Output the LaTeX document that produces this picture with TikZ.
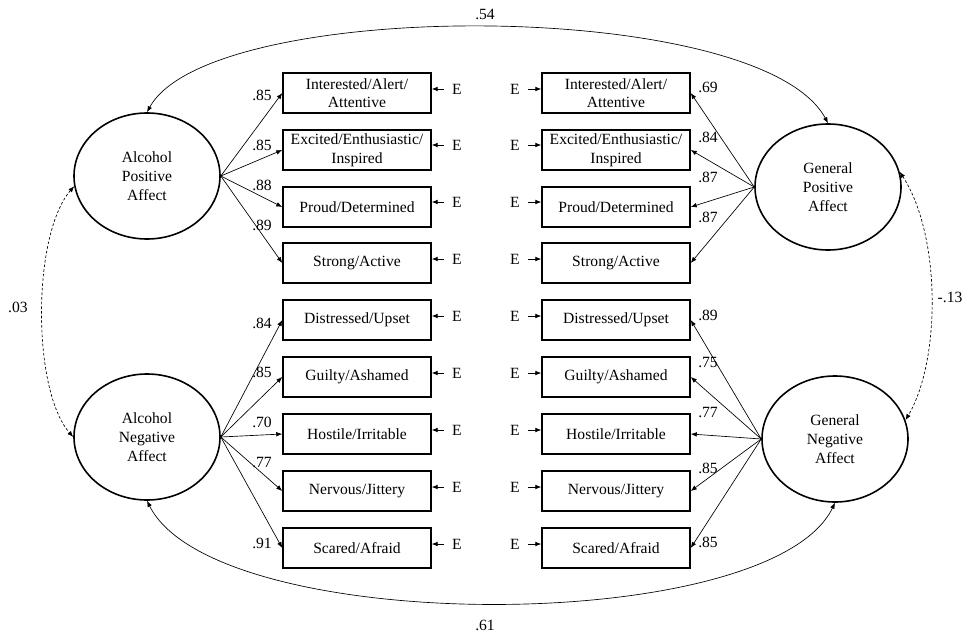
\documentclass[tikz,border=0pt]{standalone}
\usepackage{fontspec}
\setmainfont{Liberation Serif}
\usetikzlibrary{shapes.geometric,arrows.meta}
\begin{document}
\begin{tikzpicture}[x=0.75pt,y=-0.75pt,
    font=\fontsize{11.7}{14}\selectfont,
    factor/.style={ellipse,draw,line width=1.2pt,minimum width=109.5pt,
        minimum height=94.5pt,inner sep=0pt,align=center},
    item/.style={rectangle,draw,line width=1.1pt,minimum width=111pt,
        minimum height=30pt,inner sep=1pt,align=center},
    err/.style={inner sep=0pt,minimum width=19.5pt,minimum height=10pt},
    load/.style={-{Latex[length=4.5pt,width=3.5pt]},line width=0.5pt},
    cov/.style={{Latex[length=4.5pt,width=3.5pt]}-{Latex[length=4.5pt,width=3.5pt]},
        line width=0.5pt}]
    \useasboundingbox (0,0) rectangle (971,635);
    % latent factors
    \node[factor] (apa) at (147,176) {Alcohol\\Positive\\Affect};
    \node[factor] (ana) at (147,437) {Alcohol\\Negative\\Affect};
    \node[factor] (gpa) at (828,187) {General\\Positive\\Affect};
    \node[factor] (gna) at (835,439) {General\\Negative\\Affect};
    % alcohol items
    \node[item] (l1) at (357,93) {Interested/Alert/\\Attentive};
    \node[item] (l2) at (357,150) {Excited/Enthusiastic/\\Inspired};
    \node[item] (l3) at (357,207) {Proud/Determined};
    \node[item] (l4) at (357,263) {Strong/Active};
    \node[item] (l5) at (357,320) {Distressed/Upset};
    \node[item] (l6) at (357,377) {Guilty/Ashamed};
    \node[item] (l7) at (357,434) {Hostile/Irritable};
    \node[item] (l8) at (357,491) {Nervous/Jittery};
    \node[item] (l9) at (357,548) {Scared/Afraid};
    % general items
    \node[item] (r1) at (616,93) {Interested/Alert/\\Attentive};
    \node[item] (r2) at (616,150) {Excited/Enthusiastic/\\Inspired};
    \node[item] (r3) at (616,207) {Proud/Determined};
    \node[item] (r4) at (616,263) {Strong/Active};
    \node[item] (r5) at (616,320) {Distressed/Upset};
    \node[item] (r6) at (616,377) {Guilty/Ashamed};
    \node[item] (r7) at (616,434) {Hostile/Irritable};
    \node[item] (r8) at (616,491) {Nervous/Jittery};
    \node[item] (r9) at (616,548) {Scared/Afraid};
    % error terms
    \foreach \i/\y in {1/89,2/145,3/202,4/259,5/316,6/373,7/430,8/487,9/544} {
        \node[err] (el\i) at (457,\y) {E};
        \node[err] (er\i) at (515,\y) {E};
        \draw[load] (el\i) -- (el\i -| l\i.east);
        \draw[load] (er\i) -- (er\i -| r\i.west);
    }
    % loadings
    \foreach \i in {1,...,4} {
        \draw[load] (apa.east) -- (l\i.west);
        \draw[load] (gpa.west) -- (r\i.east);
    }
    \foreach \i in {5,...,9} {
        \draw[load] (ana.east) -- (l\i.west);
        \draw[load] (gna.west) -- (r\i.east);
    }
    \foreach \y/\v in {95/.85,145/.85,185/.88,225/.89,323/.84,372/.85,422/.70,462/.77,543/.91}
        \node at (262,\y) {\v};
    \foreach \y/\v in {87/.69,137/.84,177/.87,217/.87,315/.89,362/.75,413/.77,468/.85,542/.85}
        \node at (708,\y) {\v};
    % correlations
    \draw[cov] (apa.north) .. controls (210,-3) and (760,-3) .. (gpa.north);
    \node at (485,14) {.54};
    \draw[cov] (ana.south) .. controls (215,637) and (770,637) .. (gna.south);
    \node at (485,625) {.61};
    \draw[cov,dash pattern=on 2pt off 1.5pt] (apa.188) .. controls (32,235) and (32,390) .. (ana.west);
    \node at (18,307) {.03};
    \draw[cov,dash pattern=on 2pt off 1.5pt] (gpa.12) .. controls (941,235) and (941,360) .. (gna.15);
    \node at (950,297) {-.13};
\end{tikzpicture}
\end{document}
